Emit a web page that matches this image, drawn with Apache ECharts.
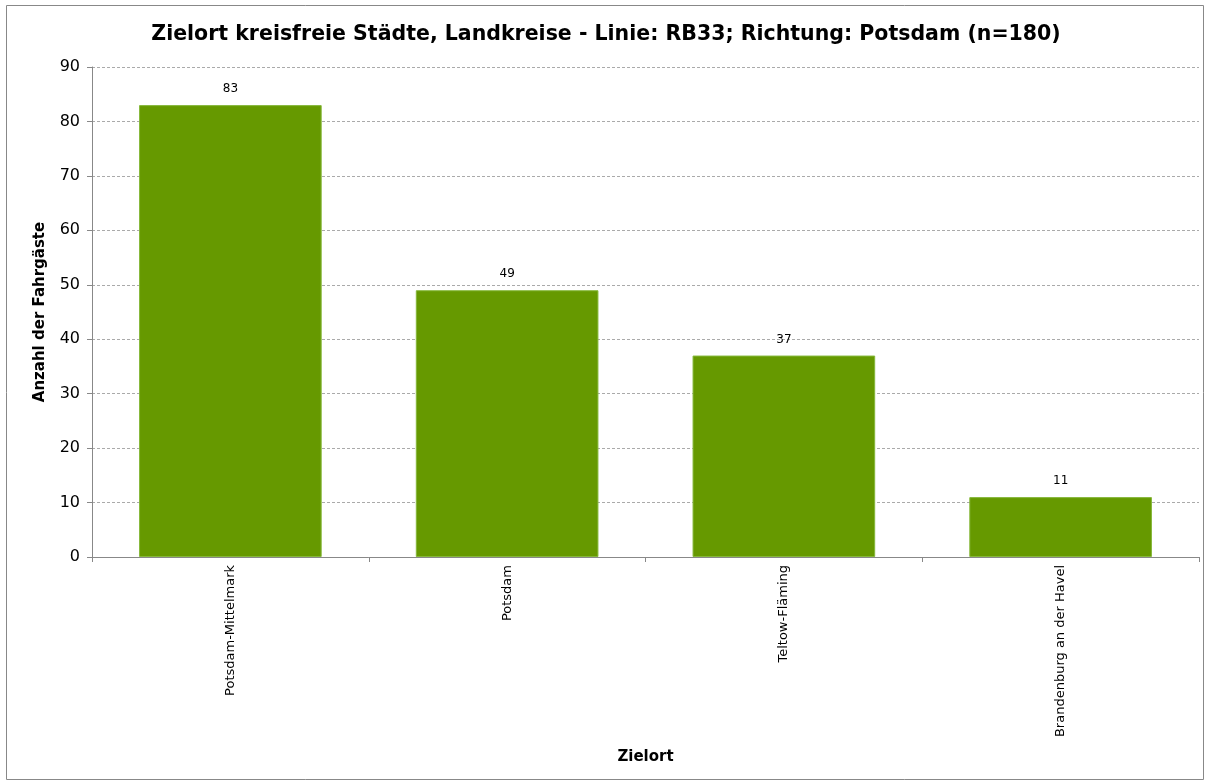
<!DOCTYPE html>
<html>
<head>
<meta charset="utf-8">
<script src="https://cdn.jsdelivr.net/npm/echarts@6/dist/echarts.min.js"></script>
<style>
  html, body { margin: 0; padding: 0; background: #fff; }
  #chart { width: 1212px; height: 782px; }
</style>
</head>
<body>
<div id="chart"></div>
<script>
const categories = ['Potsdam-Mittelmark', 'Potsdam', 'Teltow-Fläming', 'Brandenburg an der Havel']
const values = [83, 49, 37, 11]
const yTicks = { min: 0, max: 90, interval: 10 }

const font = 'Tahoma, "DejaVu Sans", Verdana, sans-serif'

const chart = echarts.init(document.getElementById('chart'))
chart.setOption({
  animation: false,
  graphic: [{
    type: 'rect',
    shape: { x: 6.5, y: 5.5, width: 1197, height: 774 },
    style: { fill: 'none', stroke: '#888', lineWidth: 1 },
    silent: true,
  }],
  title: {
    text: 'Zielort kreisfreie Städte, Landkreise - Linie: RB33; Richtung: Potsdam (n=180)',
    left: 'center',
    top: 19,
    textStyle: { fontFamily: font, fontSize: 20.5, fontWeight: 'bold', color: '#000' },
  },
  grid: { left: 92, right: 13, top: 67, bottom: 225 },
  xAxis: {
    type: 'category',
    data: categories,
    name: 'Zielort',
    nameLocation: 'middle',
    nameGap: 193,
    nameTextStyle: { fontFamily: font, fontSize: 15, fontWeight: 'bold', color: '#000' },
    axisLine: { lineStyle: { color: '#888' } },
    axisTick: { show: true, length: 5, lineStyle: { color: '#888' } },
    axisLabel: { rotate: 90, interval: 0, margin: 8, fontFamily: font, fontSize: 13, color: '#000' },
  },
  yAxis: {
    type: 'value',
    min: yTicks.min,
    max: yTicks.max,
    interval: yTicks.interval,
    name: 'Anzahl der Fahrgäste',
    nameLocation: 'middle',
    nameGap: 44,
    nameTextStyle: { fontFamily: font, fontSize: 15, fontWeight: 'bold', color: '#000' },
    axisLine: { show: true, lineStyle: { color: '#888' } },
    axisTick: { show: true, length: 5, lineStyle: { color: '#888' } },
    axisLabel: { margin: 12, fontFamily: font, fontSize: 16, color: '#000' },
    splitLine: { lineStyle: { color: '#aaa', type: [3, 2] } },
  },
  series: [{
    type: 'bar',
    data: values,
    barCategoryGap: '34%',
    itemStyle: { color: '#669900', borderColor: '#86b83a', borderWidth: 1 },
    label: {
      show: true,
      position: 'top',
      distance: 10,
      fontFamily: font,
      fontSize: 12,
      color: '#000',
    },
  }],
})
</script>
</body>
</html>
